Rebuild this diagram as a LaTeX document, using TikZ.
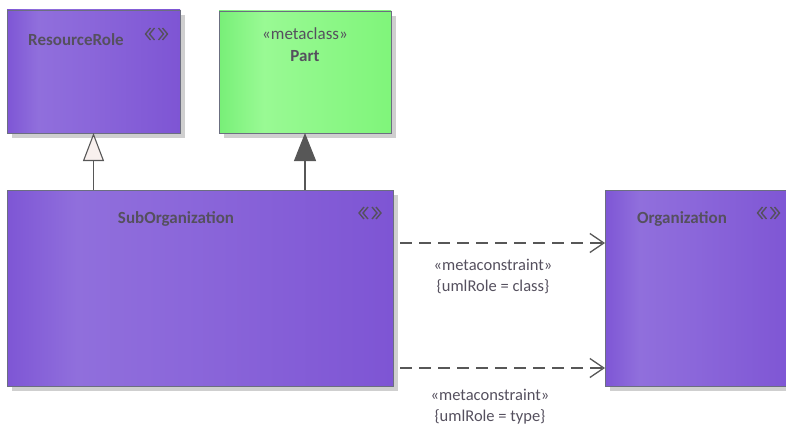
\documentclass[tikz,border=0pt]{standalone}
\usepackage{fontspec}
\setmainfont{Carlito}
\usepackage{tikz}
\usetikzlibrary{positioning,arrows.meta,calc}
\definecolor{umltext}{HTML}{55505E}
\definecolor{umlline}{HTML}{575757}
\definecolor{umlborder}{HTML}{6B6E80}
\definecolor{umlshadow}{HTML}{CFCFCF}
\definecolor{genfill}{HTML}{F8F0EE}
\pgfdeclarehorizontalshading{purpleband}{100bp}{%
  rgb(0bp)=(0.494,0.337,0.835); rgb(25bp)=(0.494,0.337,0.835);
  rgb(34bp)=(0.565,0.435,0.863); rgb(48bp)=(0.545,0.404,0.855);
  rgb(75bp)=(0.494,0.333,0.831); rgb(100bp)=(0.494,0.333,0.831)}
\pgfdeclarehorizontalshading{greenband}{100bp}{%
  rgb(0bp)=(0.470,0.937,0.470); rgb(25bp)=(0.470,0.937,0.470);
  rgb(38bp)=(0.600,0.980,0.580); rgb(75bp)=(0.500,0.960,0.480);
  rgb(100bp)=(0.500,0.960,0.480)}
\tikzset{
  eshadow/.style ={fill=umlshadow},
  ebox/.style    ={rectangle, draw=umlborder, line width=0.9pt, inner sep=0pt,
                   outer sep=0pt, shading=purpleband},
  mbox/.style    ={ebox, shading=greenband},
  ename/.style   ={font=\fontsize{17}{20}\selectfont\bfseries, text=umltext, inner sep=1pt},
  stereo/.style  ={font=\fontsize{17}{20}\selectfont, text=umltext, inner sep=1pt},
  elbl/.style    ={font=\fontsize{16.5}{21}\selectfont, text=umltext, inner sep=1pt, align=center},
  genarr/.style  ={-{Triangle[open, length=28pt, width=21pt, fill=genfill]}, line width=1.1pt, draw=umlline},
  extarr/.style  ={-{Triangle[length=28pt, width=22pt]}, line width=1.1pt, draw=umlline, fill=umlline},
  depend/.style  ={-{Straight Barb[length=14pt, width=19pt, line width=1.3pt]}, line width=1.1pt,
                   draw=umlline, dash pattern=on 12pt off 7pt},
}
% double chevron icon of the stereotype
\newcommand{\stericon}[1]{%
  \draw[umltext, line width=1.4pt] ($(#1)+(-6,-6)$) -- ++(-5,6) -- ++(5,6)
    ($(#1)+(-2,-6)$) -- ++(-5,6) -- ++(5,6)
    ($(#1)+(2,-6)$) -- ++(5,6) -- ++(-5,6)
    ($(#1)+(6,-6)$) -- ++(5,6) -- ++(-5,6);}

\begin{document}
\begin{tikzpicture}[x=1pt, y=-1pt]
  \useasboundingbox (0,0) rectangle (786,425);

  % shadows
  \fill[eshadow] (12,15) rectangle (185,138);
  \fill[eshadow] (224,16) rectangle (396,138);
  \fill[eshadow] (12,195) rectangle (398,391);
  \fill[eshadow] (610,195) rectangle (800,391);

  % elements
  \node[ebox, minimum width=173pt, minimum height=123pt] (resrole) at (93.5,71.5) {};
  \node[mbox, minimum width=172pt, minimum height=122pt] (part) at (305,72) {};
  \node[ebox, minimum width=386pt, minimum height=196pt] (suborg) at (200,288) {};
  \node[ebox, minimum width=190pt, minimum height=196pt] (org) at (700,288) {};

  % titles
  \node[ename] (resname) at (76,40) {ResourceRole};
  \node[stereo] (partst) at (305,34) {«metaclass»};
  \node[ename, below=8pt of partst] (partname) {Part};
  \node[ename] (subname) at (176,219) {SubOrganization};
  \node[ename] (orgname) at (682,219) {Organization};
  \coordinate (resicon) at (156.5,34);
  \coordinate (subicon) at (370,213);
  \coordinate (orgicon) at (768.5,213);
  \stericon{resicon}
  \stericon{subicon}
  \stericon{orgicon}

  % connectors
  \draw[genarr] (suborg.north -| resrole.south) -- (resrole.south);
  \draw[extarr] (suborg.north -| part.south) -- (part.south);
  \coordinate (d1) at (400,243);
  \coordinate (d2) at (400,368);
  \draw[depend] (d1) -- (d1 -| org.west);
  \draw[depend] (d2) -- (d2 -| org.west);
  \node[elbl] (lbl1) at (493,276.5) {«metaconstraint»\\{\{umlRole = class\}}};
  \node[elbl] (lbl2) at (490,407) {«metaconstraint»\\{\{umlRole = type\}}};
\end{tikzpicture}
\end{document}
